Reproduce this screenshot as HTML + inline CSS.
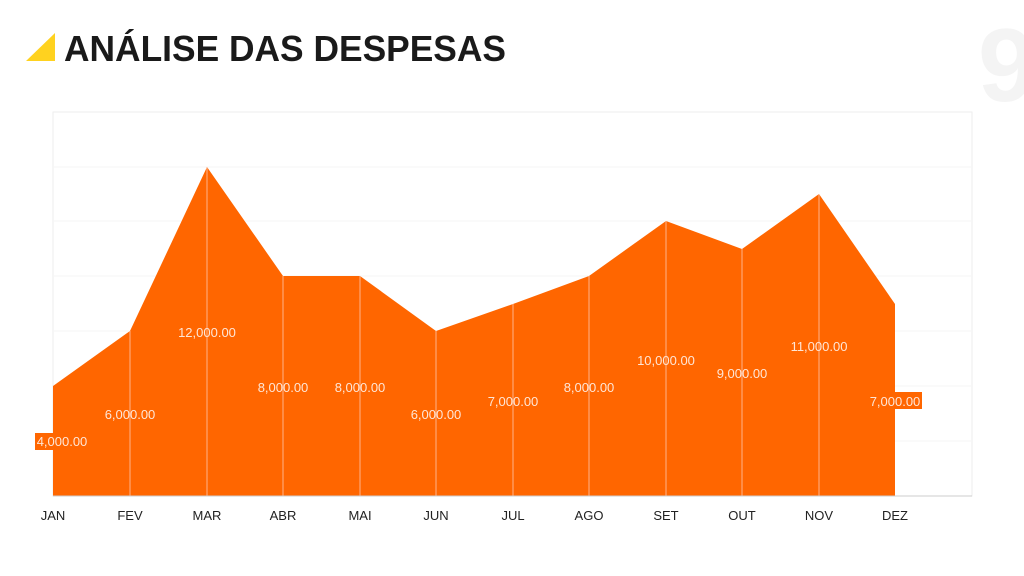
<!DOCTYPE html>
<html><head><meta charset="utf-8"><style>html,body{margin:0;padding:0;background:#fff;width:1024px;height:576px;overflow:hidden}</style></head>
<body>
<svg width="1024" height="576" viewBox="0 0 1024 576" xmlns="http://www.w3.org/2000/svg" font-family="Liberation Sans, sans-serif">
<text x="978" y="101" font-size="104" font-weight="bold" fill="#f4f4f4">9</text>
<polygon points="26,61 55,61 55,33" fill="#ffd21f"/>
<text x="64" y="61" font-size="36" font-weight="bold" fill="#1a1a1a" textLength="442" lengthAdjust="spacingAndGlyphs">ANÁLISE DAS DESPESAS</text>
<rect x="53" y="112" width="919" height="384" fill="#fff" stroke="#eee"/>
<g stroke="#f5f5f5" stroke-width="1">
<line x1="53" x2="972" y1="167" y2="167"/><line x1="53" x2="972" y1="221" y2="221"/><line x1="53" x2="972" y1="276" y2="276"/><line x1="53" x2="972" y1="331" y2="331"/><line x1="53" x2="972" y1="386" y2="386"/><line x1="53" x2="972" y1="441" y2="441"/>
</g>
<polygon fill="#ff6600" points="53,386 130,331 207,167 283,276 360,276 436,331 513,304 589,276 666,221 742,249 819,194 895,304 895,496 53,496"/>
<g stroke="#ffb38a" stroke-width="1">
<line x1="130" x2="130" y1="331" y2="496"/><line x1="207" x2="207" y1="167" y2="496"/><line x1="283" x2="283" y1="276" y2="496"/><line x1="360" x2="360" y1="276" y2="496"/><line x1="436" x2="436" y1="331" y2="496"/><line x1="513" x2="513" y1="304" y2="496"/><line x1="589" x2="589" y1="276" y2="496"/><line x1="666" x2="666" y1="221" y2="496"/><line x1="742" x2="742" y1="249" y2="496"/><line x1="819" x2="819" y1="194" y2="496"/>
</g>
<line x1="53" x2="972" y1="496" y2="496" stroke="#ccc"/>
<rect x="35" y="433" width="54" height="17" fill="#ff6600"/>
<rect x="868" y="392" width="54" height="17" fill="#ff6600"/>
<g fill="#ffe6d6" font-size="13" text-anchor="middle">
<text x="62" y="446">4,000.00</text>
<text x="130" y="419">6,000.00</text>
<text x="207" y="337">12,000.00</text>
<text x="283" y="392">8,000.00</text>
<text x="360" y="392">8,000.00</text>
<text x="436" y="419">6,000.00</text>
<text x="513" y="406">7,000.00</text>
<text x="589" y="392">8,000.00</text>
<text x="666" y="365">10,000.00</text>
<text x="742" y="378">9,000.00</text>
<text x="819" y="351">11,000.00</text>
<text x="895" y="406">7,000.00</text>
</g>
<g fill="#222" font-size="13" text-anchor="middle">
<text x="53" y="520">JAN</text><text x="130" y="520">FEV</text><text x="207" y="520">MAR</text><text x="283" y="520">ABR</text><text x="360" y="520">MAI</text><text x="436" y="520">JUN</text><text x="513" y="520">JUL</text><text x="589" y="520">AGO</text><text x="666" y="520">SET</text><text x="742" y="520">OUT</text><text x="819" y="520">NOV</text><text x="895" y="520">DEZ</text>
</g>
</svg>
</body></html>
